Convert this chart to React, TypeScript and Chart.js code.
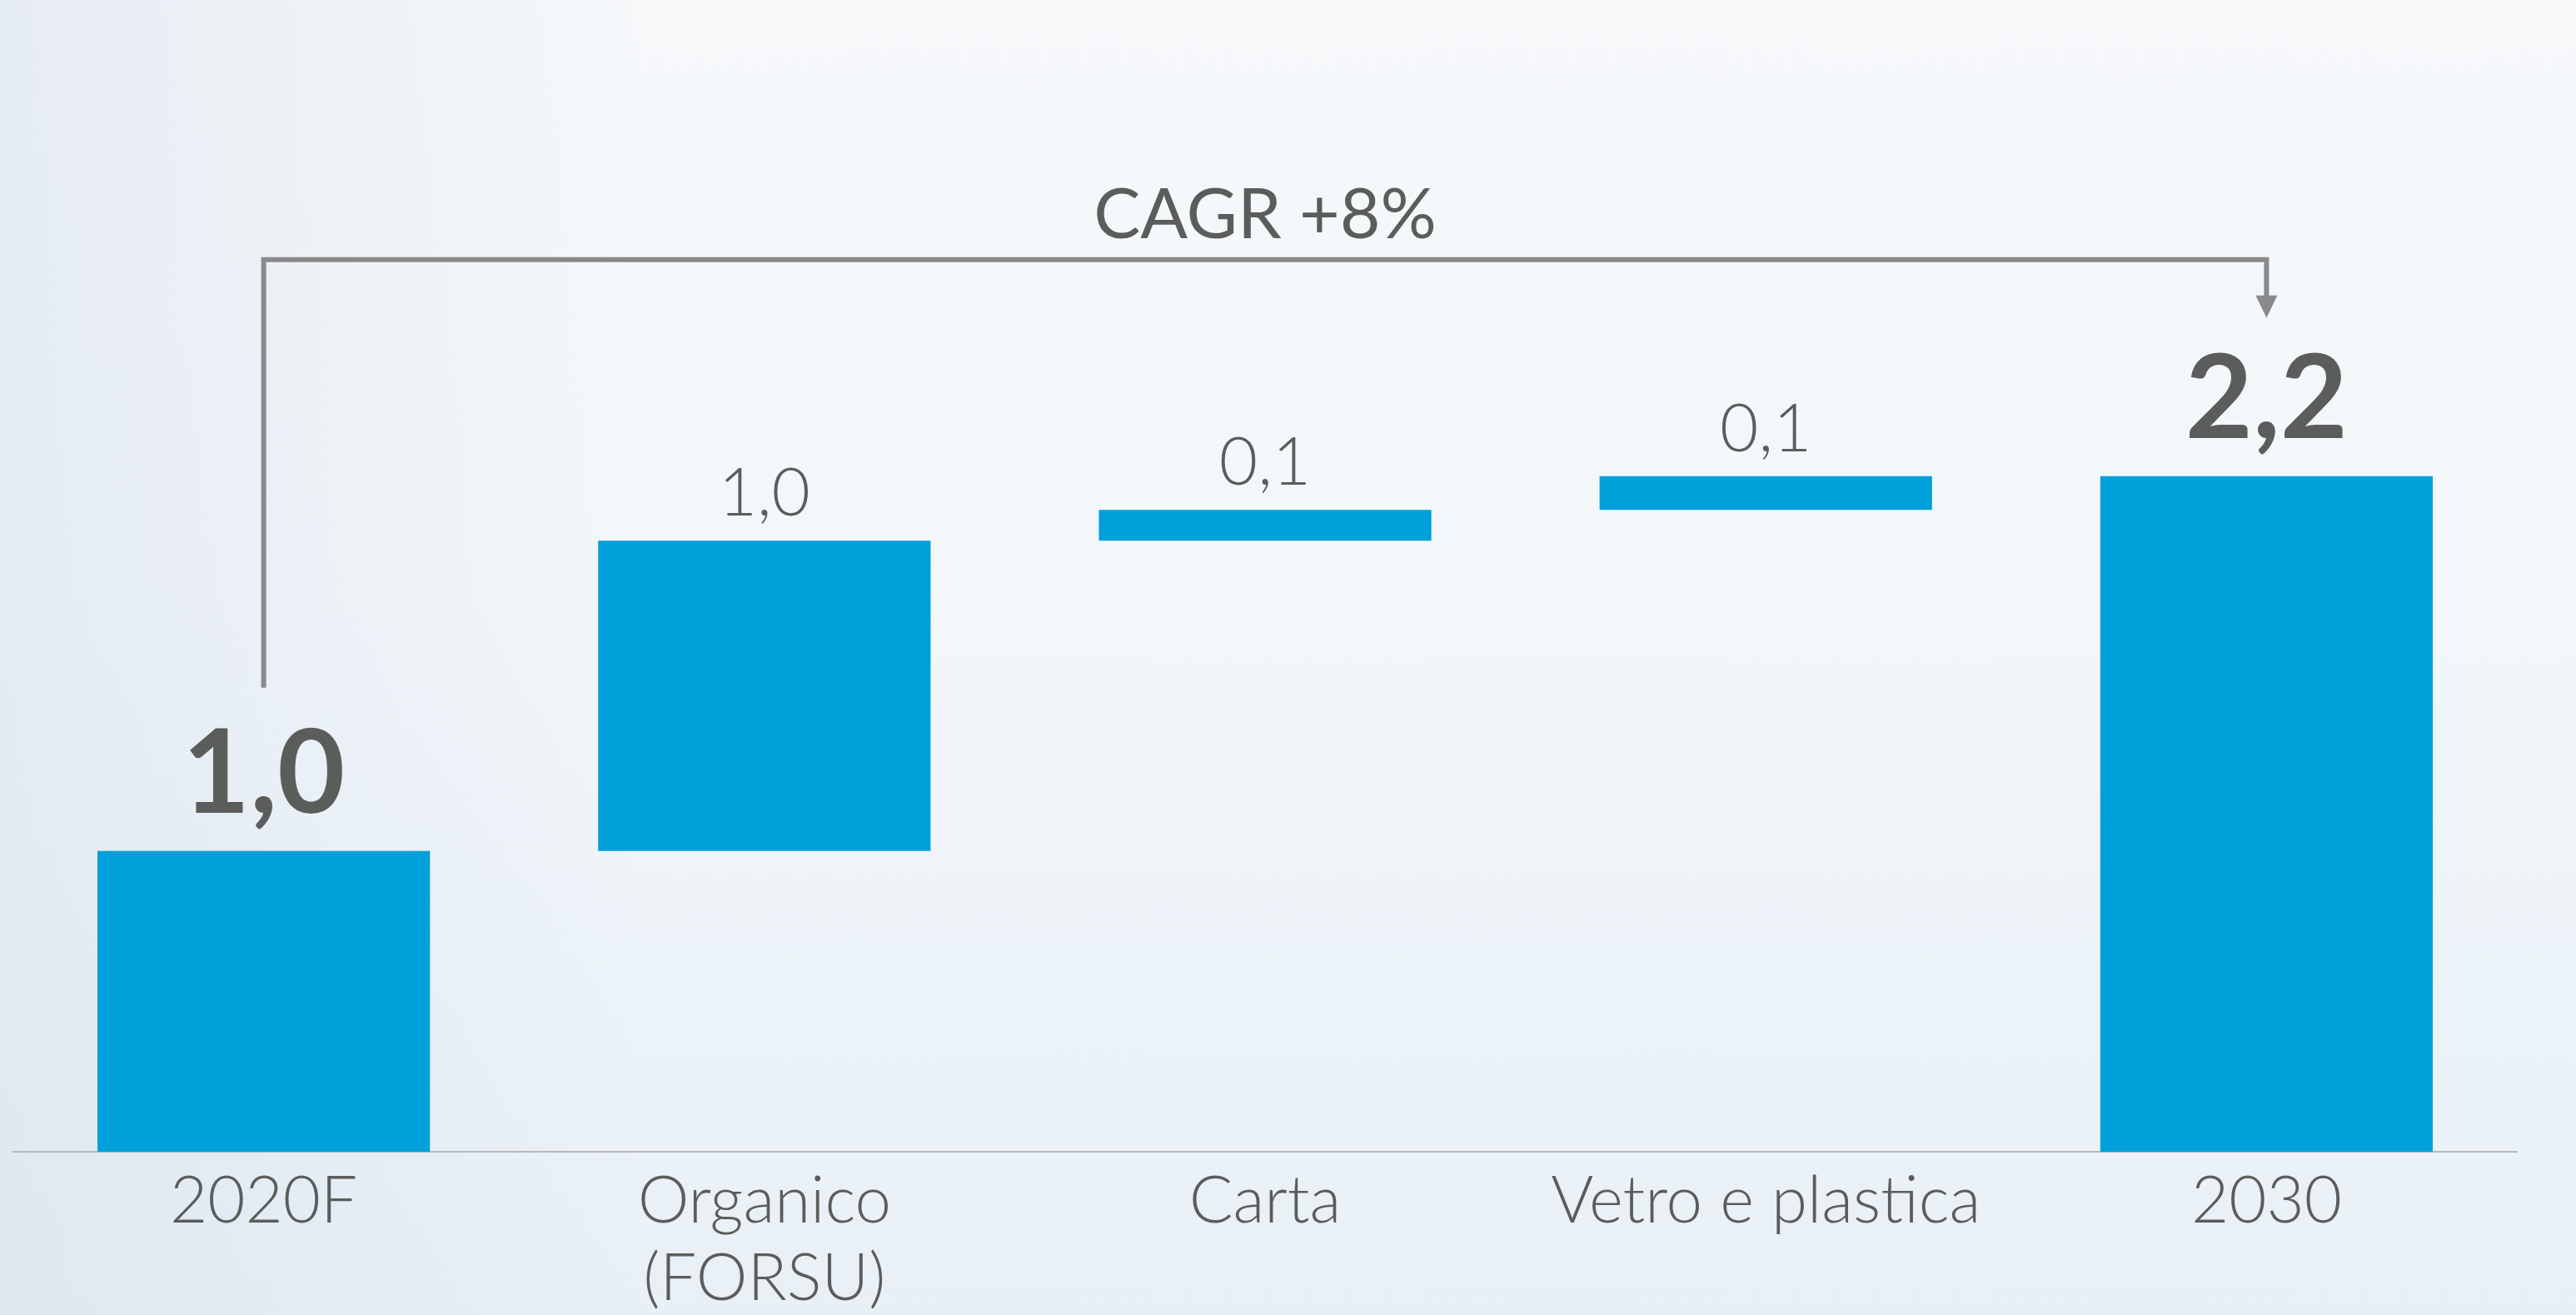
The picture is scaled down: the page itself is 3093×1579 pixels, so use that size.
import React, { useEffect, useRef } from "react";
import { Chart, registerables } from "chart.js";

Chart.register(...registerables);

// ---- Data ----
const categories: string[][] = [["2020F"], ["Organico", "(FORSU)"], ["Carta"], ["Vetro e plastica"], ["2030"]];
const stepValues: number[] = [0.98, 1.01, 0.1, 0.11, 2.2];
const stepKinds: string[] = ["total", "delta", "delta", "delta", "total"];
const cagrLabel = "CAGR +8%";

const BAR_COLOR = "#00a0da";
const TEXT_COLOR = "#5b5d5b";
const BRACKET_COLOR = "#8a8a8a";
const FONT = "Lato, 'Open Sans', sans-serif";

const CANVAS_W = 3093;
const CANVAS_H = 1595;

function buildFloating(): [number, number][] {
  let running = 0;
  return stepValues.map((v, i) => {
    if (stepKinds[i] === "total") {
      running = v;
      return [0, v] as [number, number];
    }
    const seg: [number, number] = [running, running + v];
    running += v;
    return seg;
  });
}

function fmt(v: number): string {
  return v.toFixed(1).replace(".", ",");
}

const overlayPlugin = {
  id: "waterfallOverlay",
  afterDatasetsDraw(chart: any) {
    const ctx: CanvasRenderingContext2D = chart.ctx;
    const meta = chart.getDatasetMeta(0);
    const els = meta.data;
    ctx.save();
    // value labels
    els.forEach((el: any, i: number) => {
      const top = Math.min(el.y, el.base);
      const isTotal = stepKinds[i] === "total";
      ctx.fillStyle = TEXT_COLOR;
      ctx.textAlign = "center";
      ctx.textBaseline = "alphabetic";
      if (isTotal) {
        ctx.font = `700 140px ${FONT}`;
        ctx.fillText(fmt(stepValues[i]), el.x, top - 46);
      } else {
        ctx.font = `300 80px ${FONT}`;
        ctx.fillText(fmt(stepValues[i]), el.x, top - 30);
      }
    });

    // CAGR bracket
    const first = els[0];
    const last = els[els.length - 1];
    const x0 = first.x;
    const x1 = last.x;
    const firstTop = Math.min(first.y, first.base);
    const lastTop = Math.min(last.y, last.base);
    const bracketY = lastTop - 260;
    const leftBottom = firstTop - 196;
    const arrowTip = lastTop - 190;
    const arrowH = 27;
    const arrowW = 26;

    ctx.strokeStyle = BRACKET_COLOR;
    ctx.lineWidth = 6;
    ctx.lineCap = "butt";
    ctx.lineJoin = "miter";
    ctx.beginPath();
    ctx.moveTo(x0, leftBottom);
    ctx.lineTo(x0, bracketY);
    ctx.lineTo(x1, bracketY);
    ctx.lineTo(x1, arrowTip - arrowH + 1);
    ctx.stroke();

    ctx.fillStyle = BRACKET_COLOR;
    ctx.beginPath();
    ctx.moveTo(x1 - arrowW / 2, arrowTip - arrowH);
    ctx.lineTo(x1 + arrowW / 2, arrowTip - arrowH);
    ctx.lineTo(x1, arrowTip);
    ctx.closePath();
    ctx.fill();

    ctx.fillStyle = TEXT_COLOR;
    ctx.font = `400 84px ${FONT}`;
    ctx.textAlign = "center";
    ctx.textBaseline = "alphabetic";
    ctx.fillText(cagrLabel, (x0 + x1) / 2, bracketY - 26);
    ctx.restore();
  },
};

export default function App() {
  const canvasRef = useRef<HTMLCanvasElement | null>(null);

  useEffect(() => {
    const canvas = canvasRef.current;
    if (!canvas) return;
    const chart = new Chart(canvas, {
      type: "bar",
      data: {
        labels: categories as any,
        datasets: [
          {
            data: buildFloating() as any,
            backgroundColor: BAR_COLOR,
            borderWidth: 0,
            borderSkipped: false,
            categoryPercentage: 1,
            barPercentage: 0.664,
          },
        ],
      },
      options: {
        responsive: false,
        maintainAspectRatio: false,
        animation: false,
        devicePixelRatio: 1,
        layout: { padding: { left: 16, right: 71, top: 0, bottom: 0 } },
        plugins: {
          legend: { display: false },
          tooltip: { enabled: false },
        },
        scales: {
          x: {
            grid: { display: false, drawTicks: false },
            border: { display: true, color: "#b8b8b8", width: 2 },
            ticks: {
              color: TEXT_COLOR,
              font: { family: FONT, size: 78, weight: "300" as any, lineHeight: 1.19 },
              padding: 13,
              maxRotation: 0,
              autoSkip: false,
            },
          },
          y: { display: false, min: 0, max: 3.75 },
        },
      },
      plugins: [overlayPlugin],
    });
    return () => chart.destroy();
  }, []);

  return (
    <div
      style={{
        position: "fixed",
        left: 0,
        top: 0,
        width: 3093,
        height: 1579,
        overflow: "hidden",
        background:
          "linear-gradient(90deg, rgba(210,222,234,0.45) 0%, rgba(255,255,255,0) 25%), linear-gradient(180deg, #f6f8fa 0%, #f3f7fa 45%, #ecf3f8 75%, #e8f0f6 100%)",
      }}
    >
      <canvas
        ref={canvasRef}
        width={CANVAS_W}
        height={CANVAS_H}
        style={{ display: "block", width: CANVAS_W, height: CANVAS_H }}
      />
    </div>
  );
}
